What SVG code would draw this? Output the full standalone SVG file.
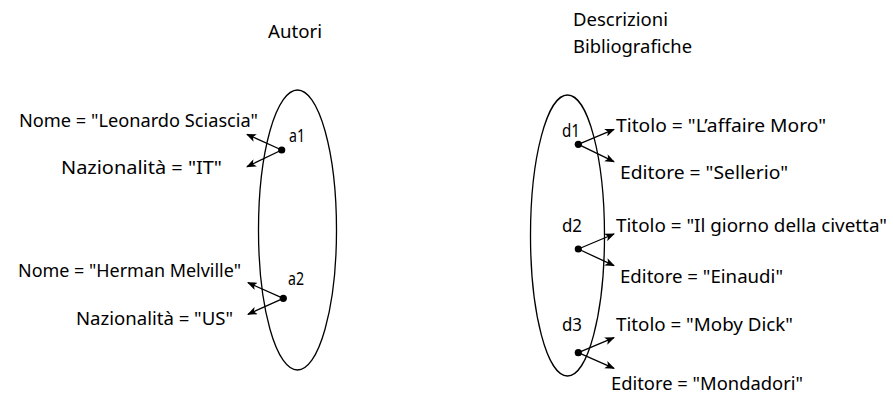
<svg xmlns="http://www.w3.org/2000/svg" width="893" height="394" viewBox="0 0 893 394">
<style>
text{font-family:"Noto Sans","DejaVu Sans",sans-serif;font-size:17.5px;fill:#000}
.set{fill:none;stroke:#000;stroke-width:1.3}
.edge{fill:none;stroke:#000;stroke-width:1.3}
.dot{fill:#000}
</style>
<defs>
<marker id="ah" markerWidth="10" markerHeight="8" refX="9" refY="4" orient="auto" markerUnits="userSpaceOnUse">
<path d="M0,0 L10,4 L0,8 L2.5,4 Z" fill="#000"/>
</marker>
</defs>
<rect width="893" height="394" fill="#fff"/>
<g id="autori">
<ellipse class="set" cx="297.5" cy="230" rx="39" ry="140"/>
<text x="268" y="38" textLength="54" lengthAdjust="spacingAndGlyphs">Autori</text>
</g>
<g id="descrizioni">
<ellipse class="set" cx="567.5" cy="235.5" rx="37" ry="140.5"/>
<text x="573" y="26" textLength="95" lengthAdjust="spacingAndGlyphs">Descrizioni</text>
<text x="573" y="52.5" textLength="119" lengthAdjust="spacingAndGlyphs">Bibliografiche</text>
</g>
<g id="connectors">
<line class="edge" x1="281.7" y1="150" x2="247" y2="134.3" marker-end="url(#ah)"/>
<line class="edge" x1="281.7" y1="150" x2="247" y2="166.7" marker-end="url(#ah)"/>
<line class="edge" x1="283.3" y1="298.3" x2="248" y2="282.7" marker-end="url(#ah)"/>
<line class="edge" x1="283.3" y1="298.3" x2="248" y2="314.3" marker-end="url(#ah)"/>
<line class="edge" x1="578.3" y1="144.3" x2="614" y2="129.3" marker-end="url(#ah)"/>
<line class="edge" x1="578.3" y1="144.3" x2="614" y2="161.7" marker-end="url(#ah)"/>
<line class="edge" x1="578.3" y1="249" x2="614" y2="234" marker-end="url(#ah)"/>
<line class="edge" x1="578.3" y1="249" x2="614" y2="265.7" marker-end="url(#ah)"/>
<line class="edge" x1="578.3" y1="352.7" x2="614" y2="337.7" marker-end="url(#ah)"/>
<line class="edge" x1="578.3" y1="352.7" x2="614" y2="368.3" marker-end="url(#ah)"/>
</g>
<g id="a1">
<circle class="dot" cx="281.7" cy="150" r="3.6"/>
<text x="289" y="142" textLength="16" lengthAdjust="spacingAndGlyphs">a1</text>
<text x="19" y="127" textLength="239" lengthAdjust="spacingAndGlyphs">Nome = "Leonardo Sciascia"</text>
<text x="61" y="174" textLength="161" lengthAdjust="spacingAndGlyphs">Nazionalità = "IT"</text>
</g>
<g id="a2">
<circle class="dot" cx="283.3" cy="298.3" r="3.6"/>
<text x="288" y="285" textLength="16" lengthAdjust="spacingAndGlyphs">a2</text>
<text x="18" y="277" textLength="223" lengthAdjust="spacingAndGlyphs">Nome = "Herman Melville"</text>
<text x="76" y="325" textLength="157" lengthAdjust="spacingAndGlyphs">Nazionalità = "US"</text>
</g>
<g id="d1">
<circle class="dot" cx="578.3" cy="144.3" r="3.6"/>
<text x="562" y="137" textLength="18" lengthAdjust="spacingAndGlyphs">d1</text>
<text x="616" y="132" textLength="210" lengthAdjust="spacingAndGlyphs">Titolo = "L’affaire Moro"</text>
<text x="620" y="179" textLength="168" lengthAdjust="spacingAndGlyphs">Editore = "Sellerio"</text>
</g>
<g id="d2">
<circle class="dot" cx="578.3" cy="249" r="3.6"/>
<text x="562" y="232" textLength="20" lengthAdjust="spacingAndGlyphs">d2</text>
<text x="616" y="232" textLength="271" lengthAdjust="spacingAndGlyphs">Titolo = "Il giorno della civetta"</text>
<text x="620" y="283" textLength="163" lengthAdjust="spacingAndGlyphs">Editore = "Einaudi"</text>
</g>
<g id="d3">
<circle class="dot" cx="578.3" cy="352.7" r="3.6"/>
<text x="562" y="331" textLength="20" lengthAdjust="spacingAndGlyphs">d3</text>
<text x="616" y="331" textLength="177" lengthAdjust="spacingAndGlyphs">Titolo = "Moby Dick"</text>
<text x="611" y="390" textLength="192" lengthAdjust="spacingAndGlyphs">Editore = "Mondadori"</text>
</g>
</svg>
